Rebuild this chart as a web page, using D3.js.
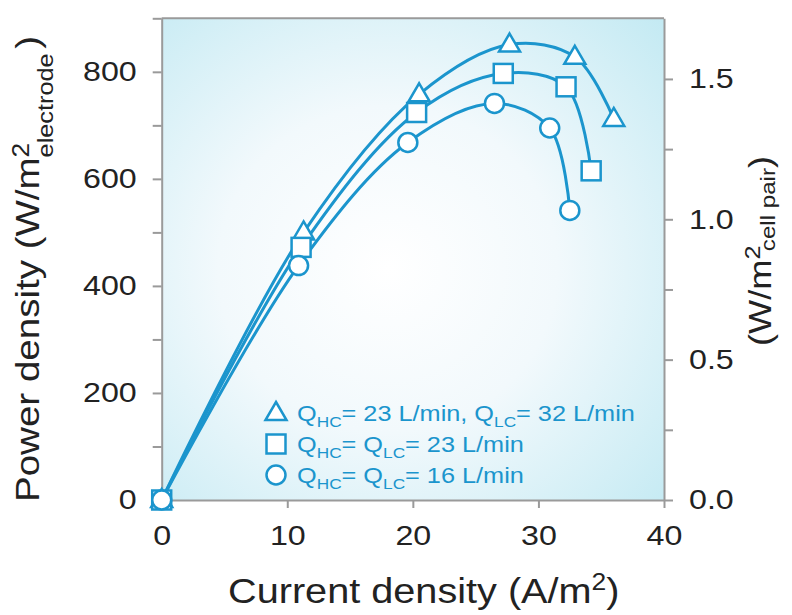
<!DOCTYPE html>
<html>
<head>
<meta charset="utf-8">
<script src="https://cdn.jsdelivr.net/npm/d3@7"></script>
<style>
  body { margin: 0; background: #fff; }
  text { font-family: "Liberation Sans", Arial, sans-serif; }
</style>
</head>
<body>
<div id="chart"></div>
<script>
// data
const currentTri = [0, 11.3, 20.5, 27.7, 32.9, 36.0];
const powerTri   = [0, 500, 758, 851, 828, 712];
const currentSq  = [0, 11.1, 20.3, 27.2, 32.2, 34.2];
const powerSq    = [0, 472, 724, 797, 772, 615];
const currentCir = [0, 10.9, 19.6, 26.5, 30.9, 32.5];
const powerCir   = [0, 438, 668, 741, 695, 541];

const xTicks = [0, 10, 20, 30, 40];
const yTicks = [0, 100, 200, 300, 400, 500, 600, 700, 800, 900];
const yLabels = [0, 200, 400, 600, 800];
const rightTicks = [0, 0.25, 0.5, 0.75, 1.0, 1.25, 1.5];
const rightLabels = [0, 0.5, 1.0, 1.5];
const rightMax = 1.716; // cell pair scale at 900 W/m2 electrode

const width = 792, height = 615;
const blue = "#1b95cd";
const grey = "#9a9a9a";
const wide = 1.15; // the figure's type is set a bit wider than Arial

const svg = d3.select('#chart').append('svg')
    .attr('width', width)
    .attr('height', height);

const x = d3.scaleLinear().domain([0, 40]).range([161.7, 664]);
const y = d3.scaleLinear().domain([0, 900]).range([500, 18.3]);
const yR = d3.scaleLinear().domain([0, rightMax]).range([500, 18.3]);

// background gradient
const defs = svg.append('defs');
const grad = defs.append('radialGradient')
    .attr('id', 'bg')
    .attr('cx', '45%').attr('cy', '52%').attr('r', '75%');
grad.append('stop').attr('offset', '0%').attr('stop-color', '#ffffff');
grad.append('stop').attr('offset', '45%').attr('stop-color', '#f2f9fc');
grad.append('stop').attr('offset', '100%').attr('stop-color', '#c4eaf3');

svg.append('rect')
    .attr('x', x(0)).attr('y', y(900))
    .attr('width', x(40) - x(0))
    .attr('height', y(0) - y(900))
    .attr('fill', 'url(#bg)');

// axes
function styleAxis(g) {
    g.select('.domain').attr('stroke', grey).attr('stroke-width', 2);
    g.selectAll('.tick line').attr('stroke', grey).attr('stroke-width', 2);
    g.selectAll('.tick text')
        .attr('fill', '#222')
        .style('font-size', '28px')
        .each(function () {
            const t = d3.select(this);
            const tx = +t.attr('x') || 0;
            t.attr('x', 0).attr('transform', `translate(${tx},0) scale(${wide},1)`);
        });
}

const gx = svg.append('g')
    .attr('transform', `translate(0,${y(0)})`)
    .call(d3.axisBottom(x).tickValues(xTicks).tickSize(8).tickSizeOuter(0).tickPadding(17));
styleAxis(gx);

const gy = svg.append('g')
    .attr('transform', `translate(${x(0)},0)`)
    .call(d3.axisLeft(y).tickValues(yTicks)
        .tickFormat(d => yLabels.includes(d) ? d : '')
        .tickSize(9).tickSizeOuter(0).tickPadding(16));
styleAxis(gy);

const gr = svg.append('g')
    .attr('transform', `translate(${x(40)},0)`)
    .call(d3.axisRight(yR).tickValues(rightTicks)
        .tickFormat(d => rightLabels.includes(d) ? d3.format('.1f')(d) : '')
        .tickSize(9).tickSizeOuter(0).tickPadding(16));
styleAxis(gr);

// top border
svg.append('line')
    .attr('x1', x(0)).attr('x2', x(40))
    .attr('y1', y(900)).attr('y2', y(900))
    .attr('stroke', grey).attr('stroke-width', 2);

// curves and markers
const series = [
    { xs: currentTri, ys: powerTri, shape: 'tri' },
    { xs: currentSq, ys: powerSq, shape: 'sq' },
    { xs: currentCir, ys: powerCir, shape: 'cir' }
];

const line = d3.line()
    .x(d => x(d[0]))
    .y(d => y(d[1]))
    .curve(d3.curveCatmullRom.alpha(0.5));

series.forEach(s => {
    s.points = s.xs.map((v, i) => [v, s.ys[i]]);
    svg.append('path')
        .attr('d', line(s.points))
        .attr('fill', 'none')
        .attr('stroke', blue)
        .attr('stroke-width', 3);
});

function drawMarker(g, shape) {
    if (shape === 'tri') {
        g.append('path').attr('d', 'M0,-11L10.5,7L-10.5,7Z');
    } else if (shape === 'sq') {
        g.append('rect').attr('x', -9.5).attr('y', -9.5).attr('width', 19).attr('height', 19);
    } else {
        g.append('circle').attr('r', 9.5);
    }
    g.selectAll('*')
        .attr('fill', '#fff')
        .attr('stroke', blue)
        .attr('stroke-width', 2.5);
}

series.forEach(s => {
    svg.selectAll(null)
        .data(s.points)
        .enter().append('g')
        .attr('transform', d => `translate(${x(d[0])},${y(d[1])})`)
        .each(function () { drawMarker(d3.select(this), s.shape); });
});

// legend
const legendRows = [
    { shape: 'tri', parts: [['Q', 0], ['HC', 1], ['= 23 L/min, Q', 0], ['LC', 1], ['= 32 L/min', 0]] },
    { shape: 'sq', parts: [['Q', 0], ['HC', 1], ['= Q', 0], ['LC', 1], ['= 23 L/min', 0]] },
    { shape: 'cir', parts: [['Q', 0], ['HC', 1], ['= Q', 0], ['LC', 1], ['= 16 L/min', 0]] }
];
const legendY = [413, 444, 475];

legendRows.forEach((row, i) => {
    const g = svg.append('g').attr('transform', `translate(276,${legendY[i]})`);
    drawMarker(g, row.shape);
    const t = svg.append('text')
        .attr('transform', `translate(297,${legendY[i] + 8})scale(${wide},1)`)
        .attr('fill', blue)
        .style('font-size', '22px');
    row.parts.forEach((p, j) => {
        t.append('tspan')
            .attr('dy', p[1] ? 6 : (j ? -6 : 0))
            .style('font-size', p[1] ? '15px' : '22px')
            .text(p[0]);
    });
});

// axis titles
const xt = svg.append('text')
    .attr('transform', `translate(228,603) scale(${wide},1)`)
    .attr('fill', '#222')
    .style('font-size', '34.5px')
    .text('Current density (A/m');
xt.append('tspan').attr('dy', -13).style('font-size', '23px').text('2');
xt.append('tspan').attr('dy', 13).text(')');

const ylt = svg.append('text')
    .attr('transform', `translate(39,502) rotate(-90) scale(${wide},1)`)
    .attr('fill', '#222')
    .style('font-size', '33.5px')
    .text('Power density (W/m');
ylt.append('tspan').attr('dy', -10).style('font-size', '23px').text('2');
ylt.append('tspan').attr('dx', -12.8).attr('dy', 24).style('font-size', '22px').text('electrode');
ylt.append('tspan').attr('dx', 4).attr('dy', -14).text(')');

const yrt = svg.append('text')
    .attr('transform', `translate(771,346) rotate(-90) scale(${wide},1)`)
    .attr('fill', '#222')
    .style('font-size', '31.5px')
    .text('(W/m');
yrt.append('tspan').attr('dy', -11).style('font-size', '22px').text('2');
yrt.append('tspan').attr('dx', -5).attr('dy', 15).style('font-size', '21px').text('cell pair');
yrt.append('tspan').attr('dy', -4).text(')');
</script>
</body>
</html>
